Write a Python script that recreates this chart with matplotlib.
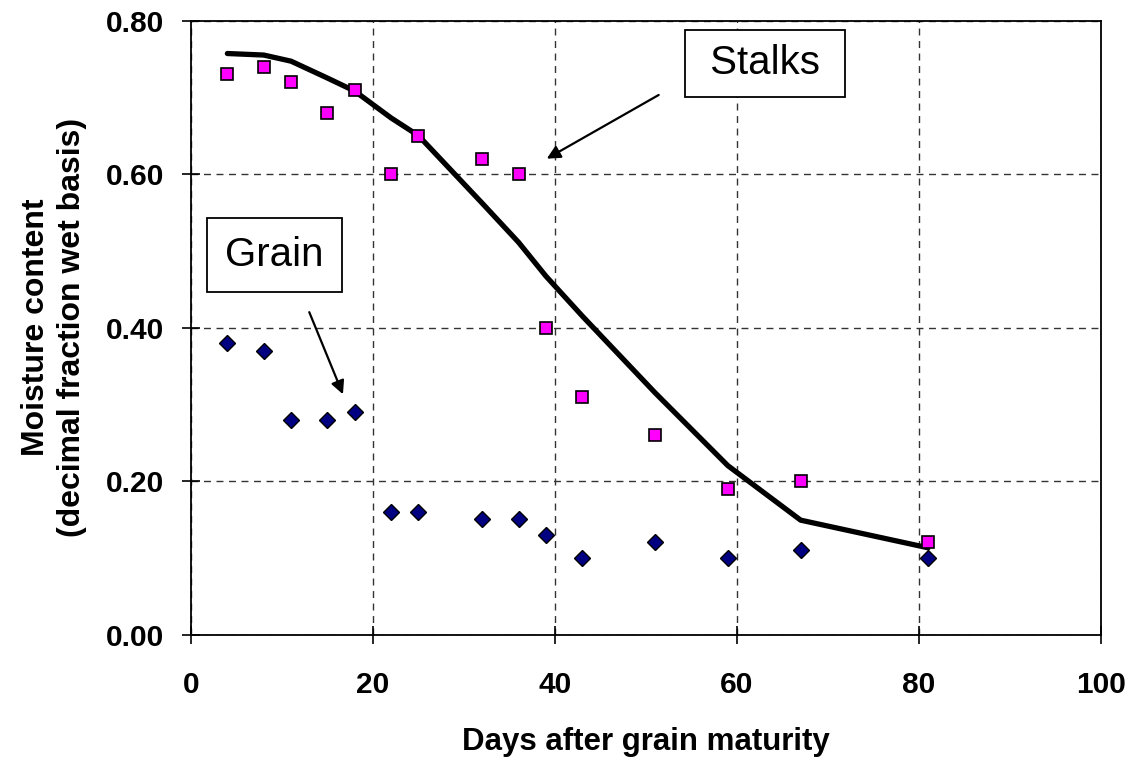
import numpy as np
import matplotlib
matplotlib.use("Agg")
from matplotlib import pyplot as plt

plt.rcParams['font.family'] = ['Liberation Sans', 'DejaVu Sans']

days = [4, 8, 11, 15, 18, 22, 25, 32, 36, 39, 43, 51, 59, 67, 81]
stalks = [0.73, 0.74, 0.72, 0.68, 0.71, 0.60, 0.65, 0.62, 0.60, 0.40, 0.31, 0.26, 0.19, 0.20, 0.12]
grain = [0.38, 0.37, 0.28, 0.28, 0.29, 0.16, 0.16, 0.15, 0.15, 0.13, 0.10, 0.12, 0.10, 0.11, 0.10]
stalks_fit = [0.757, 0.755, 0.747, 0.725, 0.708, 0.673, 0.650, 0.562, 0.511, 0.467, 0.415,
              0.315, 0.220, 0.149, 0.113]

xticks = [0, 20, 40, 60, 80, 100]
yticks = [0.0, 0.2, 0.4, 0.6, 0.8]

fig = plt.figure(figsize=(11.3, 7.57), dpi=100)
ax = fig.add_axes([0.169, 0.1618, 0.8053, 0.8111])

ax.plot(days, stalks_fit, color="black", lw=3.8, solid_capstyle="round", zorder=3)
ax.plot(days, stalks, linestyle="none", marker="s", markersize=9,
        markerfacecolor="#FF00FF", markeredgecolor="black", markeredgewidth=1.2, zorder=4)
ax.plot(days, grain, linestyle="none", marker="D", markersize=8,
        markerfacecolor="#000080", markeredgecolor="black", markeredgewidth=1.0, zorder=4)

ax.set_xlim(0, 100)
ax.set_ylim(0, 0.8)
ax.set_xticks(xticks)
ax.set_yticks(yticks)
ax.set_yticklabels([f"{v:.2f}" for v in yticks])

ax.grid(True, color="#333333", linestyle=(0, (5, 4)), linewidth=1.0)
ax.set_axisbelow(True)
for s in ax.spines.values():
    s.set_linewidth(1.3)

ax.tick_params(axis="both", direction="inout", length=13, width=1.2, labelsize=21.5)
ax.tick_params(axis="y", pad=13)
ax.tick_params(axis="x", pad=20)
for lbl in ax.get_xticklabels() + ax.get_yticklabels():
    lbl.set_fontweight("bold")

ax.set_xlabel("Days after grain maturity", fontsize=22.5, fontweight="bold", labelpad=20)
ax.set_ylabel("Moisture content\n(decimal fraction wet basis)", fontsize=23,
              fontweight="bold", labelpad=13, linespacing=1.3)

box = dict(boxstyle="square,pad=0.35", facecolor="white", edgecolor="black", linewidth=1.3)
arrow = dict(arrowstyle="-|>", color="black", lw=1.6, mutation_scale=20, shrinkA=0, shrinkB=0)

ax.annotate("", xy=(39.1, 0.620), xytext=(51.4, 0.703), arrowprops=arrow, zorder=5)
ax.annotate("", xy=(16.7, 0.313), xytext=(13.0, 0.420), arrowprops=arrow, zorder=5)
ax.text(63.1, 0.744, " Stalks ", fontsize=29, ha="center", va="center", bbox=box, zorder=6)
ax.text(9.2, 0.494, "Grain", fontsize=29, ha="center", va="center",
        bbox=dict(box, boxstyle="square,pad=0.45"), zorder=6)

fig.savefig("out.png", dpi=100)
